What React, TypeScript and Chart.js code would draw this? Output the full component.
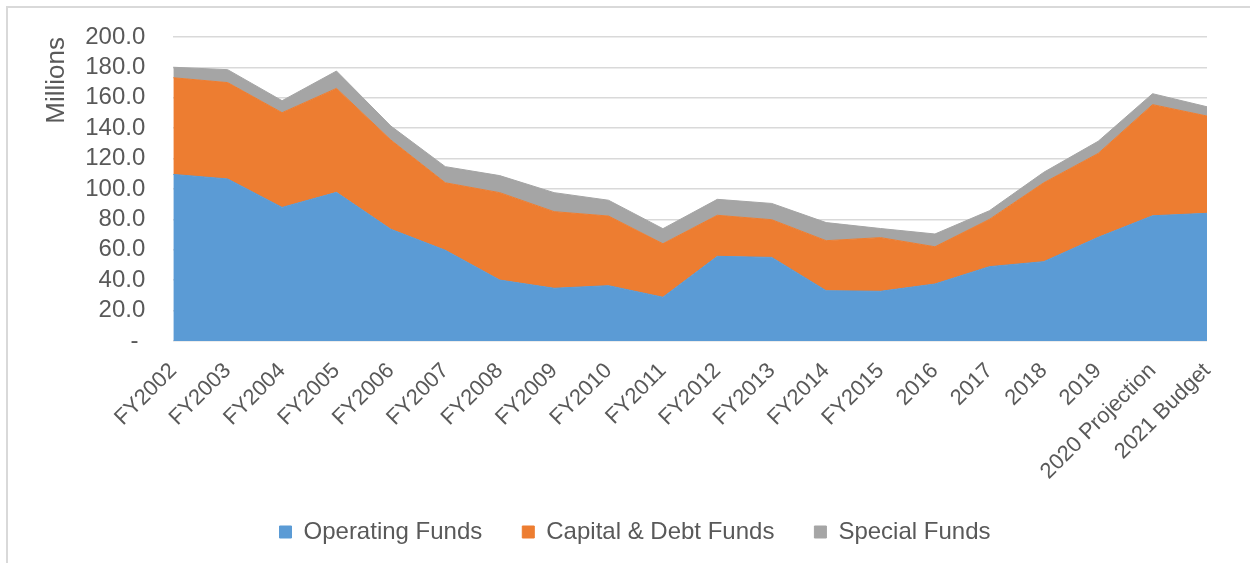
import React, { useEffect, useRef } from "react";
import { Chart, registerables } from "chart.js";

Chart.register(...registerables);

const categories = [
  "FY2002", "FY2003", "FY2004", "FY2005", "FY2006", "FY2007", "FY2008",
  "FY2009", "FY2010", "FY2011", "FY2012", "FY2013", "FY2014", "FY2015",
  "2016", "2017", "2018", "2019", "2020 Projection", "2021 Budget",
];

const operatingFunds = [
  109.6, 106.6, 87.9, 97.8, 73.5, 59.7, 40.1, 34.7, 36.4, 28.8,
  55.7, 55.0, 33.1, 32.7, 37.5, 48.9, 52.2, 68.2, 82.4, 84.0,
];

const capitalDebtFunds = [
  63.6, 63.4, 62.3, 68.4, 58.7, 44.4, 57.5, 50.4, 45.8, 35.2,
  27.0, 24.8, 32.9, 35.3, 24.5, 31.1, 51.9, 55.2, 73.1, 64.0,
];

const specialFunds = [
  6.9, 8.5, 7.9, 11.4, 9.2, 10.6, 11.2, 12.5, 10.4, 9.9,
  10.5, 10.7, 11.9, 6.0, 8.4, 5.7, 6.9, 8.0, 7.2, 6.1,
];

const yTicks = [0, 20, 40, 60, 80, 100, 120, 140, 160, 180, 200];

const FONT = "'Liberation Sans', Arial, sans-serif";
const TEXT = "#595959";

export default function App() {
  const ref = useRef<HTMLCanvasElement | null>(null);

  useEffect(() => {
    if (!ref.current) return;
    const chart = new Chart(ref.current, {
      type: "line",
      data: {
        labels: categories,
        datasets: [
          {
            label: "Operating Funds",
            data: operatingFunds,
            backgroundColor: "#5B9BD5",
            borderColor: "#5B9BD5",
            borderWidth: 1,
            pointRadius: 0,
            fill: "origin",
          },
          {
            label: "Capital & Debt Funds",
            data: capitalDebtFunds,
            backgroundColor: "#ED7D31",
            borderColor: "#ED7D31",
            borderWidth: 1,
            pointRadius: 0,
            fill: "-1",
          },
          {
            label: "Special Funds",
            data: specialFunds,
            backgroundColor: "#A5A5A5",
            borderColor: "#A5A5A5",
            borderWidth: 1,
            pointRadius: 0,
            fill: "-1",
          },
        ],
      },
      options: {
        responsive: false,
        animation: false,
        layout: { padding: { left: 63, right: 43, top: 37, bottom: 9 } },
        plugins: {
          tooltip: { enabled: false },
          legend: {
            position: "bottom",
            labels: {
              boxWidth: 12,
              boxHeight: 12,
              padding: 40,
              color: TEXT,
              font: { family: FONT, size: 24 },
            },
          },
        },
        scales: {
          x: {
            grid: { display: false },
            border: { display: false },
            ticks: {
              autoSkip: false,
              maxRotation: 45,
              minRotation: 45,
              padding: 9,
              color: TEXT,
              font: { family: FONT, size: 22 },
            },
            afterFit: (scale: any) => {
              scale.height = 139;
            },
          },
          y: {
            stacked: true,
            min: 0,
            max: 200,
            afterBuildTicks: (scale: any) => {
              scale.ticks = yTicks.map((v) => ({ value: v }));
            },
            afterFit: (scale: any) => {
              scale.paddingTop = 0;
            },
            grid: { color: "#d9d9d9", lineWidth: 1.5, drawTicks: false },
            border: { display: false },
            ticks: {
              autoSkip: false,
              padding: 28,
              color: TEXT,
              font: { family: FONT, size: 24 },
              callback: (v: any) => (Number(v) === 0 ? "- " : Number(v).toFixed(1)),
            },
            title: {
              display: true,
              text: "Millions",
              align: "end",
              color: TEXT,
              font: { family: FONT, size: 26 },
              padding: { top: -22, bottom: -15 },
            },
          },
        },
      },
    });
    return () => chart.destroy();
  }, []);

  return (
    <div
      style={{
        position: "fixed",
        left: 0,
        top: 0,
        width: 1250,
        height: 563,
        background: "#fff",
        overflow: "hidden",
      }}
    >
      <div
        style={{
          position: "absolute",
          left: 6,
          top: 6,
          width: 1400,
          height: 700,
          borderLeft: "2px solid #d9d9d9",
          borderTop: "2px solid #d9d9d9",
        }}
      />
      <canvas
        ref={ref}
        width={1250}
        height={563}
        style={{ position: "absolute", left: 0, top: 0, display: "block" }}
      />
    </div>
  );
}
